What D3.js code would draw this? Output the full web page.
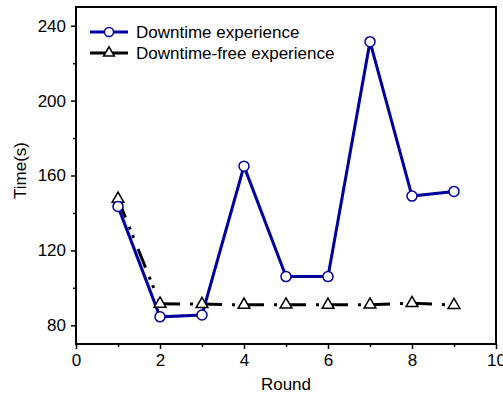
<!DOCTYPE html>
<html>
<head>
<meta charset="utf-8">
<script src="https://cdn.jsdelivr.net/npm/d3@7"></script>
<style>
  body { margin: 0; background: #fff; }
  svg { display: block; font-family: Arial, "Liberation Sans", sans-serif; }
</style>
</head>
<body>
<div id="chart"></div>
<script>
// ---- data ----
const rounds = [1, 2, 3, 4, 5, 6, 7, 8, 9];
const downtime = [143.5, 84.5, 85.5, 165, 106, 106, 231.5, 149, 151.5];
const downtimeFree = [147.5, 91.5, 91.3, 90.9, 91, 90.9, 91, 91.8, 90.8];
const xTicks = [0, 2, 4, 6, 8, 10];
const xMinor = [1, 3, 5, 7, 9];
const yTicks = [80, 120, 160, 200, 240];
const yMinor = [100, 140, 180, 220];
const seriesNames = ["Downtime experience", "Downtime-free experience"];

// ---- setup ----
const W = 503, H = 401;
const margin = {top: 7, right: 7, bottom: 57, left: 76};
const width = W - margin.left - margin.right;
const height = H - margin.top - margin.bottom;

const blue = "#00009f";

const svg = d3.select("#chart").append("svg")
  .attr("width", W)
  .attr("height", H);

const g = svg.append("g")
  .attr("transform", `translate(${margin.left},${margin.top})`);

const x = d3.scaleLinear().domain([0, 10]).range([0, width]);
const y = d3.scaleLinear().domain([70, 250]).range([height, 0]);

// ---- axes ----
const styleAxis = sel => {
  sel.select(".domain").remove();
  sel.selectAll("line").attr("stroke", "#000").attr("stroke-width", 1.5);
  sel.selectAll("text").attr("fill", "#000").style("font-size", "17px");
};

g.append("g")
  .attr("transform", `translate(0,${height})`)
  .call(d3.axisBottom(x).tickValues(xTicks).tickSize(5).tickPadding(5).tickFormat(d3.format("d")))
  .call(styleAxis);

g.append("g")
  .attr("transform", `translate(0,${height})`)
  .call(d3.axisBottom(x).tickValues(xMinor).tickSize(3).tickFormat(""))
  .call(styleAxis);

g.append("g")
  .call(d3.axisLeft(y).tickValues(yTicks).tickSize(5).tickPadding(5))
  .call(styleAxis);

g.append("g")
  .call(d3.axisLeft(y).tickValues(yMinor).tickSize(3).tickFormat(""))
  .call(styleAxis);

// frame
g.append("rect")
  .attr("x", 0).attr("y", 0)
  .attr("width", width).attr("height", height)
  .attr("fill", "none")
  .attr("stroke", "#000")
  .attr("stroke-width", 2);

// ---- axis titles ----
g.append("text")
  .attr("x", width / 2)
  .attr("y", height + 46)
  .attr("text-anchor", "middle")
  .style("font-size", "17px")
  .text("Round");

g.append("text")
  .attr("transform", "rotate(-90)")
  .attr("x", -y(160) + 5)
  .attr("y", -50)
  .attr("text-anchor", "middle")
  .style("font-size", "17px")
  .text("Time(s)");

// ---- lines ----
const line = d3.line().x(d => x(d[0])).y(d => y(d[1]));

const freePts = rounds.map((r, i) => [r, downtimeFree[i]]);
const downPts = rounds.map((r, i) => [r, downtime[i]]);

// dash-dot-dot pattern restarts on each segment
for (let i = 0; i < freePts.length - 1; i++) {
  g.append("path")
    .datum([freePts[i], freePts[i + 1]])
    .attr("fill", "none")
    .attr("stroke", "#000")
    .attr("stroke-width", 3)
    .attr("stroke-dasharray", "20,10,3,6,3,12")
    .attr("d", line);
}

g.append("path")
  .datum(downPts)
  .attr("fill", "none")
  .attr("stroke", blue)
  .attr("stroke-width", 3)
  .attr("d", line);

// ---- markers ----
const tri = d3.symbol().type(d3.symbolTriangle).size(60);

g.selectAll(".tri")
  .data(freePts)
  .enter()
  .append("path")
  .attr("class", "tri")
  .attr("transform", d => `translate(${x(d[0])},${y(d[1])})`)
  .attr("d", tri)
  .attr("fill", "#fff")
  .attr("stroke", "#000")
  .attr("stroke-width", 1.5);

g.selectAll(".circ")
  .data(downPts)
  .enter()
  .append("circle")
  .attr("class", "circ")
  .attr("cx", d => x(d[0]))
  .attr("cy", d => y(d[1]))
  .attr("r", 5)
  .attr("fill", "#fff")
  .attr("stroke", blue)
  .attr("stroke-width", 1.5);

// ---- legend ----
const legend = svg.append("g");
const legendRows = [
  {name: seriesNames[0], color: blue, marker: "circle", y: 32},
  {name: seriesNames[1], color: "#000", marker: "triangle", y: 53}
];

legendRows.forEach(r => {
  legend.append("line")
    .attr("x1", 90).attr("x2", 128)
    .attr("y1", r.y).attr("y2", r.y)
    .attr("stroke", r.color)
    .attr("stroke-width", 3);
  if (r.marker === "circle") {
    legend.append("circle")
      .attr("cx", 109).attr("cy", r.y).attr("r", 4.5)
      .attr("fill", "#fff").attr("stroke", r.color).attr("stroke-width", 1.5);
  } else {
    legend.append("path")
      .attr("transform", `translate(109,${r.y})`)
      .attr("d", d3.symbol().type(d3.symbolTriangle).size(50))
      .attr("fill", "#fff").attr("stroke", r.color).attr("stroke-width", 1.5);
  }
  legend.append("text")
    .attr("x", 136)
    .attr("y", r.y + 6)
    .style("font-size", "17px")
    .text(r.name);
});
</script>
</body>
</html>
